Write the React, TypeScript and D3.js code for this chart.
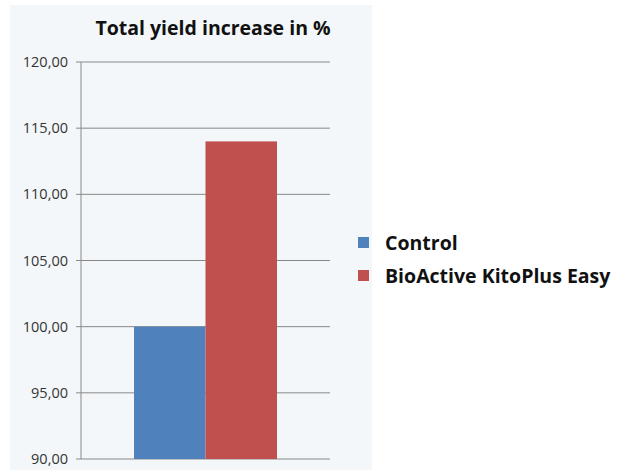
import React from "react";
import * as d3 from "d3";

const categories = ["Control", "BioActive KitoPlus Easy"];
const values = [100, 114];
const colors = ["#4f81bd", "#c0504d"];
const yTicks = [90, 95, 100, 105, 110, 115, 120];
const title = "Total yield increase in %";

export default function App() {
  const W = 627, H = 470;
  const plotLeft = 81, plotRight = 330;
  const y = d3.scaleLinear().domain([90, 120]).range([459, 62]);
  const x = d3.scaleBand().domain(categories).range([134, 277]).padding(0);
  const fmt = (v: number) => d3.format(".2f")(v).replace(".", ",");
  const font = "'Open Sans', 'Noto Sans', sans-serif";
  return (
    <svg width={W} height={H} style={{ position: "absolute", left: 0, top: 0, background: "#fff" }}>
      <rect x={10} y={5} width={362} height={465} fill="#f3f7fa" />
      <text x={213} y={35} textAnchor="middle" fontFamily={font} fontWeight="bold" fontSize={19.5} fill="#111">{title}</text>
      {yTicks.map((t) => (
        <g key={t}>
          <line x1={plotLeft - 5} x2={plotRight} y1={y(t)} y2={y(t)} stroke="#888" strokeWidth={1} />
          <text x={68} y={y(t) + 5} textAnchor="end" fontFamily={font} fontSize={14.5} fill="#333">{fmt(t)}</text>
        </g>
      ))}
      <line x1={plotLeft} x2={plotLeft} y1={y(120)} y2={y(90)} stroke="#888" strokeWidth={1} />
      {categories.map((c, i) => (
        <rect key={c} x={x(c)} y={y(values[i])} width={x.bandwidth()} height={y(90) - y(values[i])} fill={colors[i]} />
      ))}
      {categories.map((c, i) => (
        <g key={c} transform={`translate(358, ${237 + i * 33})`}>
          <rect x={0} y={0} width={11} height={11} fill={colors[i]} />
          <text x={27} y={13} fontFamily={font} fontWeight="bold" fontSize={19.5} fill="#111">{c}</text>
        </g>
      ))}
    </svg>
  );
}
